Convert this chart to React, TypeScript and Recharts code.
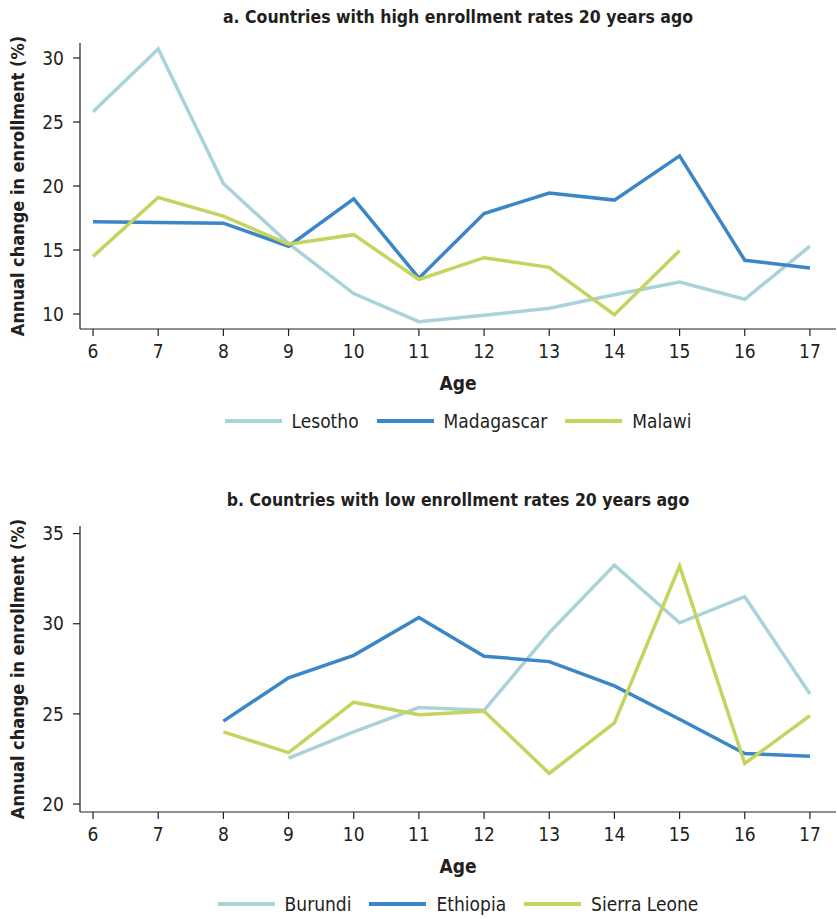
import { LineChart, Line, XAxis, YAxis } from 'recharts';

const AGES = [6, 7, 8, 9, 10, 11, 12, 13, 14, 15, 16, 17];

const LESOTHO = [25.8, 30.7, 20.2, 15.5, 11.6, 9.4, 9.9, 10.45, 11.5, 12.5, 11.15, 15.3];
const MADAGASCAR = [17.2, 17.15, 17.1, 15.3, 19.0, 12.8, 17.85, 19.45, 18.9, 22.35, 14.2, 13.6];
const MALAWI = [14.5, 19.1, 17.65, 15.45, 16.2, 12.7, 14.4, 13.65, 9.95, 14.95, null, null];

const BURUNDI = [null, null, null, 22.55, 24.0, 25.35, 25.2, 29.5, 33.25, 30.05, 31.5, 26.1];
const ETHIOPIA = [null, null, 24.6, 27.0, 28.25, 30.35, 28.2, 27.9, 26.55, 24.7, 22.8, 22.65];
const SIERRA_LEONE = [null, null, 24.0, 22.85, 25.65, 24.95, 25.15, 21.7, 24.5, 33.2, 22.25, 24.9];

const TICKS_A = [10, 15, 20, 25, 30];
const TICKS_B = [20, 25, 30, 35];

const LIGHT = '#a8d4d9';
const BLUE = '#3b86c6';
const GREEN = '#c5d35f';
const INK = '#231f20';
const FONT = '"Liberation Sans Narrow", "DejaVu Sans Condensed", "Arial Narrow", sans-serif';

interface Series {
  name: string;
  values: (number | null)[];
  color: string;
}

function buildRows(series: Series[]) {
  return AGES.map((age, i) => {
    const row: Record<string, number | null> = { age };
    series.forEach((s) => {
      row[s.name] = s.values[i];
    });
    return row;
  });
}

function YLabel(props: any) {
  const vb = props.viewBox ?? { x: 0, y: 43, width: 80, height: 286 };
  const cx = 17;
  const cy = vb.y + vb.height / 2;
  return (
    <text
      x={cx}
      y={cy}
      transform={`rotate(-90, ${cx}, ${cy})`}
      textAnchor="middle"
      dominantBaseline="central"
      fontFamily={FONT}
      fontWeight="bold"
      fontSize={18}
      fill={INK}
    >
      Annual change in enrollment (%)
    </text>
  );
}

function AgeLabel(props: any) {
  const vb = props.viewBox ?? { x: 80, y: 329, width: 756, height: 70 };
  return (
    <text
      x={vb.x + vb.width / 2}
      y={vb.y + 54}
      textAnchor="middle"
      dominantBaseline="central"
      fontFamily={FONT}
      fontWeight="bold"
      fontSize={19}
      fill={INK}
    >
      Age
    </text>
  );
}

function Panel({
  title,
  series,
  domain,
  ticks,
  top,
}: {
  title: string;
  series: Series[];
  domain: [number, number];
  ticks: number[];
  top: number;
}) {
  const data = buildRows(series);
  return (
    <div style={{ position: 'absolute', left: 0, top, width: 837, height: 440 }}>
      <div
        style={{
          position: 'absolute',
          left: 80,
          width: 756,
          top: 5,
          textAlign: 'center',
          fontFamily: FONT,
          fontWeight: 'bold',
          fontSize: 17.5,
          color: INK,
          lineHeight: '24px',
        }}
      >
        {title}
      </div>
      <LineChart width={837} height={399} data={data} margin={{ top: 43, right: 1, left: 0, bottom: 0 }}>
        <XAxis
          dataKey="age"
          type="number"
          domain={[5.8, 17.4]}
          ticks={AGES}
          allowDataOverflow
          height={70}
          tickSize={7}
          tickMargin={9}
          stroke={INK}
          strokeWidth={1.2}
          tick={{ fill: INK, fontSize: 19, fontFamily: FONT }}
          label={{ content: <AgeLabel /> }}
        />
        <YAxis
          type="number"
          domain={domain}
          ticks={ticks}
          allowDataOverflow
          width={80}
          tickSize={7}
          tickMargin={9}
          stroke={INK}
          strokeWidth={1.2}
          tick={{ fill: INK, fontSize: 19, fontFamily: FONT }}
          label={{ content: <YLabel /> }}
        />
        {series.map((s) => (
          <Line
            key={s.name}
            type="linear"
            dataKey={s.name}
            stroke={s.color}
            strokeWidth={3.5}
            dot={false}
            activeDot={false}
            isAnimationActive={false}
          />
        ))}
      </LineChart>
      <div
        style={{
          position: 'absolute',
          left: 80,
          width: 756,
          top: 410,
          display: 'flex',
          justifyContent: 'center',
          alignItems: 'center',
          fontFamily: FONT,
          fontSize: 19,
          color: INK,
        }}
      >
        {series.map((s, i) => (
          <div key={s.name} style={{ display: 'flex', alignItems: 'center', marginLeft: i === 0 ? 0 : 18 }}>
            <span style={{ display: 'inline-block', width: 57, height: 4, background: s.color, marginRight: 10 }} />
            <span>{s.name}</span>
          </div>
        ))}
      </div>
    </div>
  );
}

export default function App() {
  return (
    <div style={{ position: 'absolute', left: 0, top: 0, width: 837, height: 919, background: '#fff' }}>
      <Panel
        title="a. Countries with high enrollment rates 20 years ago"
        series={[
          { name: 'Lesotho', values: LESOTHO, color: LIGHT },
          { name: 'Madagascar', values: MADAGASCAR, color: BLUE },
          { name: 'Malawi', values: MALAWI, color: GREEN },
        ]}
        domain={[8.83, 31.17]}
        ticks={TICKS_A}
        top={0}
      />
      <Panel
        title="b. Countries with low enrollment rates 20 years ago"
        series={[
          { name: 'Burundi', values: BURUNDI, color: LIGHT },
          { name: 'Ethiopia', values: ETHIOPIA, color: BLUE },
          { name: 'Sierra Leone', values: SIERRA_LEONE, color: GREEN },
        ]}
        domain={[19.56, 35.42]}
        ticks={TICKS_B}
        top={483}
      />
    </div>
  );
}
